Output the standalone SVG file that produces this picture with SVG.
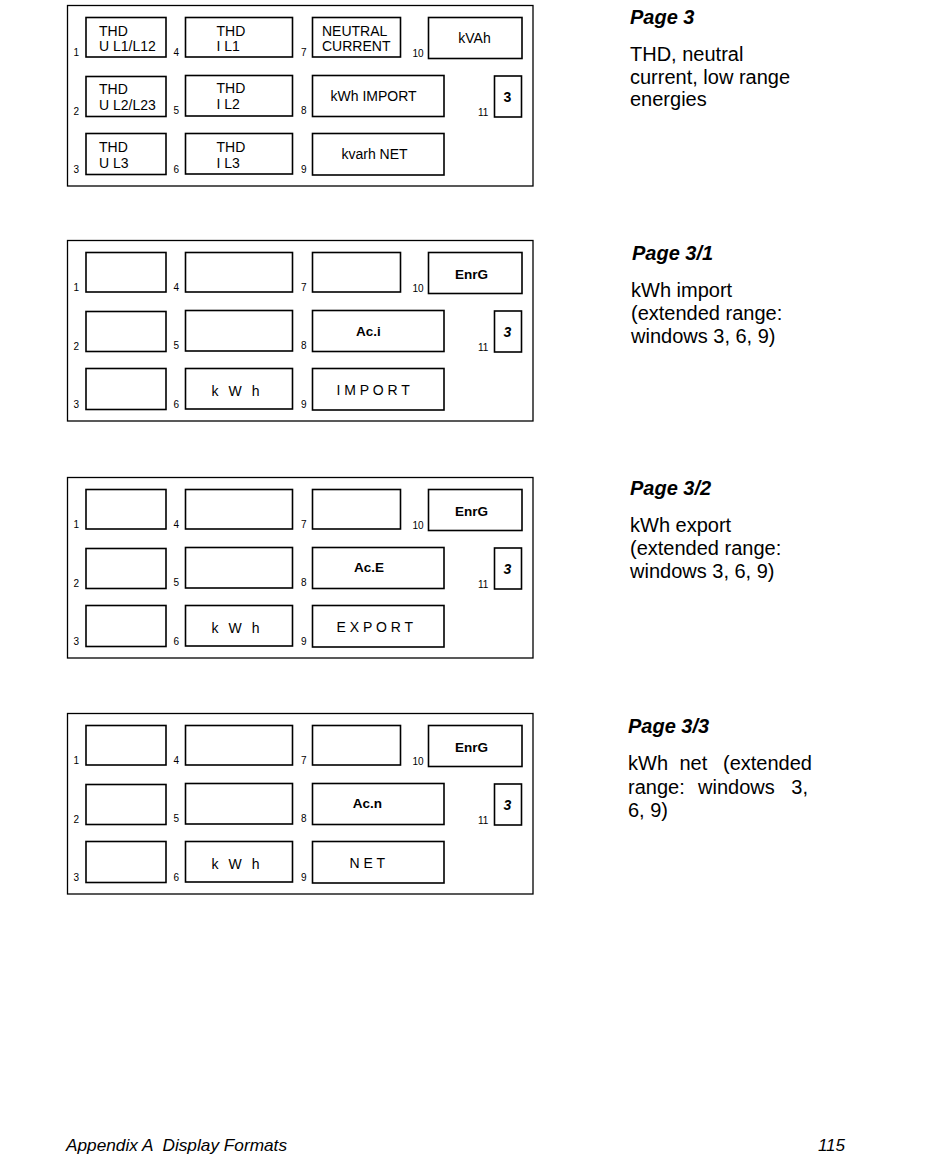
<svg xmlns="http://www.w3.org/2000/svg" width="950" height="1170" viewBox="0 0 950 1170">
<style>
.frame{fill:#fff;stroke:#000;stroke-width:1.3}
.win{fill:#fff;stroke:#000;stroke-width:1.6}
.num{font-family:"Liberation Sans",Arial,sans-serif;font-size:10px;fill:#000}
.t{font-family:"Liberation Sans",Arial,sans-serif;font-size:14px;fill:#000}
.b{font-family:"Liberation Sans",Arial,sans-serif;font-size:13.5px;font-weight:bold;fill:#000}
.bi{font-family:"Liberation Sans",Arial,sans-serif;font-size:14px;font-weight:bold;font-style:italic;fill:#000}
.title{font-family:"Liberation Sans",Arial,sans-serif;font-size:20px;font-weight:bold;font-style:italic;fill:#000}
.body{font-family:"Liberation Sans",Arial,sans-serif;font-size:20px;fill:#000}
.foot{font-family:"Liberation Sans",Arial,sans-serif;font-size:17px;font-style:italic;fill:#000;white-space:pre}
.c{text-anchor:middle}
</style>
<defs>
<g id="layout">
<rect class="frame" x="67.5" y="5.5" width="465.5" height="180.5"/>
<rect class="win" x="86" y="17.5" width="80" height="39.5"/>
<rect class="win" x="185.5" y="17.5" width="107" height="39.5"/>
<rect class="win" x="312.5" y="17.5" width="88" height="39.5"/>
<rect class="win" x="428.5" y="17.5" width="93.5" height="41"/>
<rect class="win" x="86" y="76.5" width="80" height="40"/>
<rect class="win" x="185.5" y="75.5" width="107" height="40.5"/>
<rect class="win" x="312.5" y="75.5" width="131.5" height="41"/>
<rect class="win" x="494.5" y="76" width="27" height="41"/>
<rect class="win" x="86" y="133.5" width="80" height="41"/>
<rect class="win" x="185.5" y="133.5" width="107" height="40.5"/>
<rect class="win" x="312.5" y="133.5" width="131.5" height="41.5"/>
<text class="num" x="73.5" y="55.5">1</text>
<text class="num" x="173.5" y="55.5">4</text>
<text class="num" x="301" y="55.5">7</text>
<text class="num" x="412.5" y="56.5">10</text>
<text class="num" x="73.5" y="115">2</text>
<text class="num" x="173.5" y="114">5</text>
<text class="num" x="301" y="114">8</text>
<text class="num" x="478" y="115.5">11</text>
<text class="num" x="73.5" y="173">3</text>
<text class="num" x="173.5" y="172.5">6</text>
<text class="num" x="301" y="173">9</text>
</g>
</defs>
<rect x="0" y="0" width="950" height="1170" fill="#fff"/>

<g id="page3">
<use href="#layout"/>
<g id="p3-w1"><text class="t" x="99" y="35.5">THD</text><text class="t" x="99" y="50.5">U L1/L12</text></g>
<g id="p3-w2"><text class="t" x="99" y="93.5">THD</text><text class="t" x="99" y="110">U L2/L23</text></g>
<g id="p3-w3"><text class="t" x="99" y="152">THD</text><text class="t" x="99" y="167.5">U L3</text></g>
<g id="p3-w4"><text class="t" x="216.5" y="35.5">THD</text><text class="t" x="216.5" y="50.5">I L1</text></g>
<g id="p3-w5"><text class="t" x="216.5" y="93">THD</text><text class="t" x="216.5" y="109">I L2</text></g>
<g id="p3-w6"><text class="t" x="216.5" y="152">THD</text><text class="t" x="216.5" y="167.5">I L3</text></g>
<g id="p3-w7"><text class="t" x="322" y="35.5">NEUTRAL</text><text class="t" x="322" y="50.5">CURRENT</text></g>
<g id="p3-w8"><text class="t" x="330.5" y="100.5">kWh IMPORT</text></g>
<g id="p3-w9"><text class="t" x="341.5" y="159">kvarh NET</text></g>
<g id="p3-w10"><text class="t c" x="474.5" y="42.5">kVAh</text></g>
<g id="p3-w11"><text class="t c" x="507.5" y="101.5" font-weight="bold">3</text></g>
<g id="p3-desc">
<text class="title" x="630" y="24">Page 3</text>
<text class="body" x="630" y="61">THD, neutral</text>
<text class="body" x="630" y="83.5">current, low range</text>
<text class="body" x="630" y="106">energies</text>
</g>
</g>

<g id="page3-1" transform="translate(0,235)">
<use href="#layout"/>
<g id="p31-w10"><text class="b c" x="471.5" y="44">EnrG</text></g>
<g id="p31-w8"><text class="b c" x="368.5" y="101">Ac.i</text></g>
<g id="p31-w11"><text class="bi c" x="507.5" y="102">3</text></g>
<g id="p31-w6"><text class="t" x="211.5" y="160.5" textLength="48" lengthAdjust="spacing">k W h</text></g>
<g id="p31-w9"><text class="t" x="336.5" y="159.5">I M P O R T</text></g>
</g>
<g id="p31-desc">
<text class="title" x="632" y="260">Page 3/1</text>
<text class="body" x="631" y="296.5">kWh import</text>
<text class="body" x="631" y="319.5">(extended range:</text>
<text class="body" x="631" y="342.5">windows 3, 6, 9)</text>
</g>

<g id="page3-2" transform="translate(0,472)">
<use href="#layout"/>
<g id="p32-w10"><text class="b c" x="471.5" y="44">EnrG</text></g>
<g id="p32-w8"><text class="b c" x="369" y="100">Ac.E</text></g>
<g id="p32-w11"><text class="bi c" x="507.5" y="102">3</text></g>
<g id="p32-w6"><text class="t" x="211.5" y="160.5" textLength="48" lengthAdjust="spacing">k W h</text></g>
<g id="p32-w9"><text class="t" x="336.5" y="159.5">E X P O R T</text></g>
</g>
<g id="p32-desc">
<text class="title" x="630" y="495">Page 3/2</text>
<text class="body" x="630" y="532">kWh export</text>
<text class="body" x="630" y="555">(extended range:</text>
<text class="body" x="630" y="578">windows 3, 6, 9)</text>
</g>

<g id="page3-3" transform="translate(0,708)">
<use href="#layout"/>
<g id="p33-w10"><text class="b c" x="471.5" y="44">EnrG</text></g>
<g id="p33-w8"><text class="b c" x="367.5" y="100">Ac.n</text></g>
<g id="p33-w11"><text class="bi c" x="507.5" y="102">3</text></g>
<g id="p33-w6"><text class="t" x="211.5" y="160.5" textLength="48" lengthAdjust="spacing">k W h</text></g>
<g id="p33-w9"><text class="t" x="349.5" y="159.5">N E T</text></g>
</g>
<g id="p33-desc">
<text class="title" x="628" y="733">Page 3/3</text>
<text class="body" y="770"><tspan x="628">kWh</tspan><tspan x="679.5">net</tspan><tspan x="812" text-anchor="end">(extended</tspan></text>
<text class="body" y="793.5"><tspan x="628">range:</tspan><tspan x="698">windows</tspan><tspan x="808" text-anchor="end">3,</tspan></text>
<text class="body" x="628" y="817">6, 9)</text>
</g>

<g id="footer">
<text class="foot" x="66" y="1151" textLength="221" lengthAdjust="spacingAndGlyphs" xml:space="preserve">Appendix A  Display Formats</text>
<text class="foot" x="845" y="1151" text-anchor="end">115</text>
</g>
</svg>
